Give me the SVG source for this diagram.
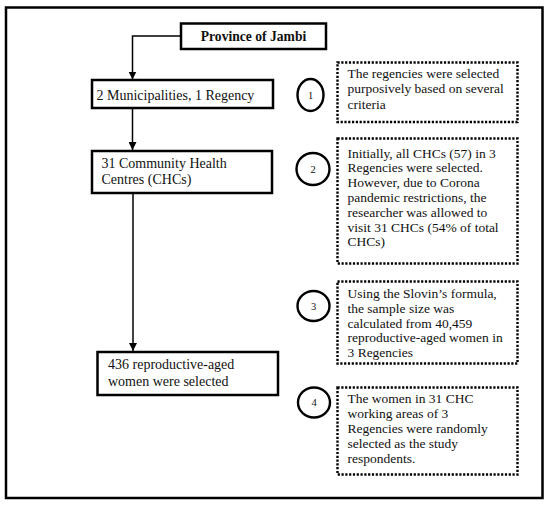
<svg xmlns="http://www.w3.org/2000/svg" width="550" height="508" viewBox="0 0 550 508">
<defs>
<style>
.box{fill:#fff;stroke:#000;stroke-width:2.5}
.dot{fill:#fff;stroke:#000;stroke-width:2.4;stroke-dasharray:2.2 1.6}
.circ{fill:none;stroke:#000;stroke-width:2.4}
.t{font-family:"Liberation Serif","Times New Roman",serif;font-size:14px;fill:#111}
.r{font-family:"Liberation Serif","Times New Roman",serif;font-size:13.5px;fill:#111}
.tb{font-family:"Liberation Serif","Times New Roman",serif;font-size:13.6px;font-weight:bold;fill:#111}
.n{font-family:"Liberation Serif","Times New Roman",serif;font-size:10.5px;fill:#111;text-anchor:middle}
.c{fill:none;stroke:#000;stroke-width:1.5}
</style>
<marker id="ah" markerUnits="userSpaceOnUse" markerWidth="9" markerHeight="8" refX="8" refY="4" orient="auto">
<path d="M0,0 L8,4 L0,8 z" fill="#000"/>
</marker>
</defs>
<rect x="6" y="7.5" width="536.5" height="490.5" fill="#fff" stroke="#000" stroke-width="2.5"/>
<g id="connectors">
<path class="c" d="M181,36 H132.5 V79.5" marker-end="url(#ah)"/>
<path class="c" d="M132.5,108 V150" marker-end="url(#ah)"/>
<path class="c" d="M133,193 V351" marker-end="url(#ah)"/>
</g>
<g id="province">
<rect class="box" x="181" y="23.5" width="145" height="25.5"/>
<text class="tb" x="253.5" y="41" text-anchor="middle">Province of Jambi</text>
</g>
<g id="municipalities">
<rect class="box" x="92" y="80" width="181" height="28"/>
<text class="t" x="96.5" y="99.5">2 Municipalities, 1 Regency</text>
</g>
<g id="chcs">
<rect class="box" x="92" y="151" width="180" height="42"/>
<text class="t" x="101.5" y="168">31 Community Health</text>
<text class="t" x="101.5" y="184">Centres (CHCs)</text>
</g>
<g id="women">
<rect class="box" x="97.5" y="352" width="180.5" height="43"/>
<text class="t" x="108" y="369">436 reproductive-aged</text>
<text class="t" x="108" y="386">women were selected</text>
</g>
<g id="note1">
<ellipse class="circ" cx="310.5" cy="95" rx="13" ry="16"/>
<text class="n" x="310.5" y="98.5">1</text>
<rect class="dot" x="337.5" y="62.5" width="180" height="59.5"/>
<text class="r" x="347.5" y="77.5">The regencies were selected</text>
<text class="r" x="347.5" y="93">purposively based on several</text>
<text class="r" x="347.5" y="108.5">criteria</text>
</g>
<g id="note2">
<ellipse class="circ" cx="313" cy="169" rx="16.5" ry="16"/>
<text class="n" x="313" y="172.5">2</text>
<rect class="dot" x="337.5" y="138.5" width="180" height="125"/>
<text class="r" x="347.5" y="157.5">Initially, all CHCs (57) in 3</text>
<text class="r" x="347.5" y="172.3">Regencies were selected.</text>
<text class="r" x="347.5" y="187.1">However, due to Corona</text>
<text class="r" x="347.5" y="201.9">pandemic restrictions, the</text>
<text class="r" x="347.5" y="216.7">researcher was allowed to</text>
<text class="r" x="347.5" y="231.5">visit 31 CHCs (54% of total</text>
<text class="r" x="347.5" y="246.3">CHCs)</text>
</g>
<g id="note3">
<ellipse class="circ" cx="313.5" cy="306" rx="16" ry="15"/>
<text class="n" x="313.5" y="309.5">3</text>
<rect class="dot" x="337.5" y="281.5" width="180" height="82"/>
<text class="r" x="347.5" y="298">Using the Slovin’s formula,</text>
<text class="r" x="347.5" y="312.8">the sample size was</text>
<text class="r" x="347.5" y="327.6">calculated from 40,459</text>
<text class="r" x="347.5" y="342.4">reproductive-aged women in</text>
<text class="r" x="347.5" y="357.2">3 Regencies</text>
</g>
<g id="note4">
<ellipse class="circ" cx="314" cy="402.5" rx="16" ry="15"/>
<text class="n" x="314" y="406">4</text>
<rect class="dot" x="337.5" y="387.5" width="180" height="87"/>
<text class="r" x="347.5" y="402.5">The women in 31 CHC</text>
<text class="r" x="347.5" y="417.5">working areas of 3</text>
<text class="r" x="347.5" y="432.5">Regencies were randomly</text>
<text class="r" x="347.5" y="447.5">selected as the study</text>
<text class="r" x="347.5" y="462.5">respondents.</text>
</g>
</svg>
